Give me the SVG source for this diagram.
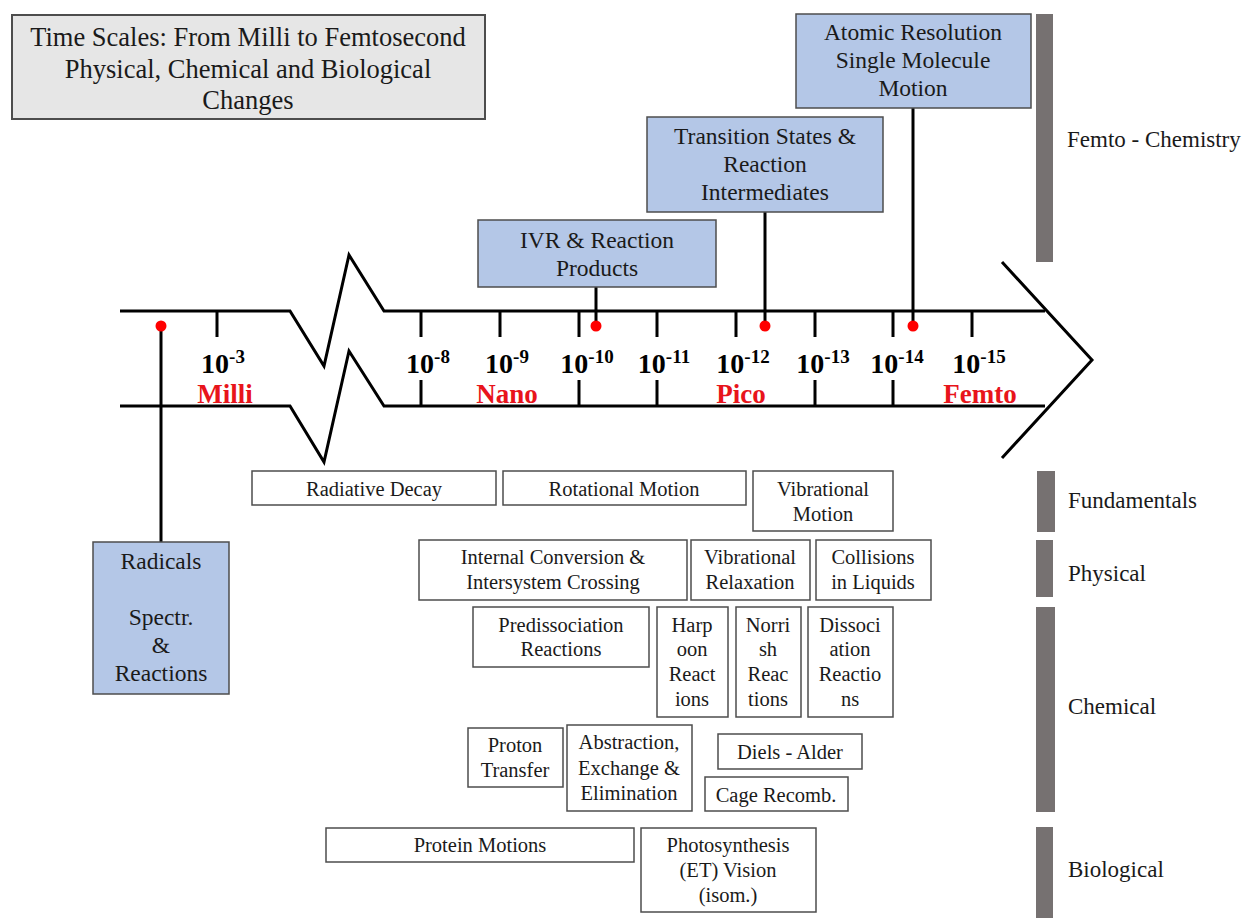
<svg xmlns="http://www.w3.org/2000/svg" width="1248" height="918" viewBox="0 0 1248 918">
<style>
text{font-family:"Liberation Serif","Times New Roman",serif;fill:#1a1a1a}
.t{font-size:20.5px;text-anchor:middle}
.tb{font-size:23.5px;text-anchor:middle}
.ttl{font-size:26.5px;text-anchor:middle}
.cat{font-size:23px}
.ax{font-size:28px;font-weight:bold;text-anchor:middle;fill:#000}
.sup{font-size:19px}
.unit{font-size:27px;font-weight:bold;text-anchor:middle;fill:#e8141b}
.box{fill:#fff;stroke:#4d4d4d;stroke-width:1.5}
.blue{fill:#b4c7e7;stroke:#4d4d4d;stroke-width:1.5}
.bar{fill:#767171}
.ln{fill:none;stroke:#000;stroke-width:3;stroke-linejoin:miter}
.dot{fill:#ff0000}
</style>

<g id="title">
<rect x="12" y="15" width="473" height="104" fill="#e6e6e6" stroke="#4d4d4d" stroke-width="2"/>
<text class="ttl" x="248" y="46">Time Scales: From Milli to Femtosecond</text>
<text class="ttl" x="248" y="78">Physical, Chemical and Biological</text>
<text class="ttl" x="248" y="109">Changes</text>
</g>

<g id="timeline">
<path class="ln" d="M120,311 H290 L324,366 L349,255 L384,311 H1045"/>
<path class="ln" d="M120,406 H290 L324,462 L349,351 L384,406 H1045"/>
<path class="ln" d="M1002,262 L1092,360 L1002,458"/>
<path class="ln" d="M217,311 V337 M421,311 V337 M500,311 V337 M579,311 V337 M657,311 V337 M736,311 V337 M815,311 V337 M893,311 V337 M972,311 V337"/>
<path class="ln" d="M421,380 V406 M579,380 V406 M657,380 V406 M815,380 V406 M893,380 V406"/>
<text class="ax" x="223" y="373">10<tspan class="sup" dy="-10">-3</tspan></text>
<text class="ax" x="428" y="373">10<tspan class="sup" dy="-10">-8</tspan></text>
<text class="ax" x="507" y="373">10<tspan class="sup" dy="-10">-9</tspan></text>
<text class="ax" x="587" y="373">10<tspan class="sup" dy="-10">-10</tspan></text>
<text class="ax" x="664" y="373">10<tspan class="sup" dy="-10">-11</tspan></text>
<text class="ax" x="743" y="373">10<tspan class="sup" dy="-10">-12</tspan></text>
<text class="ax" x="823" y="373">10<tspan class="sup" dy="-10">-13</tspan></text>
<text class="ax" x="897" y="373">10<tspan class="sup" dy="-10">-14</tspan></text>
<text class="ax" x="979" y="373">10<tspan class="sup" dy="-10">-15</tspan></text>
<text class="unit" x="225" y="403">Milli</text>
<text class="unit" x="507" y="403">Nano</text>
<text class="unit" x="741" y="403">Pico</text>
<text class="unit" x="980" y="403">Femto</text>
</g>

<g id="connectors">
<path class="ln" d="M161,326 V542"/>
<path class="ln" d="M596,287 V326"/>
<path class="ln" d="M765,212 V326"/>
<path class="ln" d="M913,108 V326"/>
<circle class="dot" cx="161" cy="326" r="5.5"/>
<circle class="dot" cx="596" cy="326" r="5.5"/>
<circle class="dot" cx="765" cy="326" r="5.5"/>
<circle class="dot" cx="913" cy="326" r="5.5"/>
</g>

<g id="ivr">
<rect class="blue" x="478" y="220" width="238" height="67"/>
<text class="tb" x="597" y="248">IVR &amp; Reaction</text>
<text class="tb" x="597" y="276">Products</text>
</g>
<g id="transition">
<rect class="blue" x="647" y="117" width="236" height="95"/>
<text class="tb" x="765" y="144">Transition States &amp;</text>
<text class="tb" x="765" y="172">Reaction</text>
<text class="tb" x="765" y="200">Intermediates</text>
</g>
<g id="atomic">
<rect class="blue" x="796" y="14" width="235" height="94"/>
<text class="tb" x="913" y="40">Atomic Resolution</text>
<text class="tb" x="913" y="68">Single Molecule</text>
<text class="tb" x="913" y="96">Motion</text>
</g>
<g id="radicals">
<rect class="blue" x="93" y="542" width="136" height="152"/>
<text class="tb" x="161" y="569">Radicals</text>
<text class="tb" x="161" y="625">Spectr.</text>
<text class="tb" x="161" y="653">&amp;</text>
<text class="tb" x="161" y="681">Reactions</text>
</g>

<g id="categories">
<rect class="bar" x="1036" y="14" width="17" height="248"/>
<text class="cat" x="1067" y="147">Femto - Chemistry</text>
<rect class="bar" x="1037" y="471" width="18" height="61"/>
<text class="cat" x="1068" y="508">Fundamentals</text>
<rect class="bar" x="1036" y="540" width="17" height="57"/>
<text class="cat" x="1068" y="581">Physical</text>
<rect class="bar" x="1036" y="607" width="19" height="205"/>
<text class="cat" x="1068" y="714">Chemical</text>
<rect class="bar" x="1036" y="827" width="17" height="91"/>
<text class="cat" x="1068" y="877">Biological</text>
</g>

<g id="radiative">
<rect class="box" x="252" y="471" width="244" height="34"/>
<text class="t" x="374" y="496">Radiative Decay</text>
</g>
<g id="rotational">
<rect class="box" x="503" y="471" width="243" height="34"/>
<text class="t" x="624" y="496">Rotational Motion</text>
</g>
<g id="vibrational">
<rect class="box" x="753" y="471" width="140" height="60"/>
<text class="t" x="823" y="496">Vibrational</text>
<text class="t" x="823" y="521">Motion</text>
</g>
<g id="internal">
<rect class="box" x="419" y="540" width="268" height="60"/>
<text class="t" x="553" y="564">Internal Conversion &amp;</text>
<text class="t" x="553" y="589">Intersystem Crossing</text>
</g>
<g id="vibrelax">
<rect class="box" x="691" y="540" width="119" height="60"/>
<text class="t" x="750" y="564">Vibrational</text>
<text class="t" x="750" y="589">Relaxation</text>
</g>
<g id="collisions">
<rect class="box" x="816" y="540" width="115" height="60"/>
<text class="t" x="873" y="564">Collisions</text>
<text class="t" x="873" y="589">in Liquids</text>
</g>
<g id="predissociation">
<rect class="box" x="473" y="607" width="176" height="60"/>
<text class="t" x="561" y="632">Predissociation</text>
<text class="t" x="561" y="656">Reactions</text>
</g>
<g id="harpoon">
<rect class="box" x="657" y="607" width="71" height="110"/>
<text class="t" x="692" y="632">Harp</text>
<text class="t" x="692" y="656">oon</text>
<text class="t" x="692" y="681">React</text>
<text class="t" x="692" y="706">ions</text>
</g>
<g id="norrish">
<rect class="box" x="736" y="607" width="65" height="110"/>
<text class="t" x="768" y="632">Norri</text>
<text class="t" x="768" y="656">sh</text>
<text class="t" x="768" y="681">Reac</text>
<text class="t" x="768" y="706">tions</text>
</g>
<g id="dissociation">
<rect class="box" x="808" y="607" width="85" height="110"/>
<text class="t" x="850" y="632">Dissoci</text>
<text class="t" x="850" y="656">ation</text>
<text class="t" x="850" y="681">Reactio</text>
<text class="t" x="850" y="706">ns</text>
</g>
<g id="proton">
<rect class="box" x="468" y="728" width="95" height="59"/>
<text class="t" x="515" y="752">Proton</text>
<text class="t" x="515" y="777">Transfer</text>
</g>
<g id="abstraction">
<rect class="box" x="567" y="725" width="125" height="86"/>
<text class="t" x="629" y="749">Abstraction,</text>
<text class="t" x="629" y="775">Exchange &amp;</text>
<text class="t" x="629" y="800">Elimination</text>
</g>
<g id="diels">
<rect class="box" x="718" y="734" width="144" height="35"/>
<text class="t" x="790" y="759">Diels - Alder</text>
</g>
<g id="cage">
<rect class="box" x="705" y="777" width="143" height="34"/>
<text class="t" x="776" y="802">Cage Recomb.</text>
</g>
<g id="protein">
<rect class="box" x="326" y="828" width="308" height="34"/>
<text class="t" x="480" y="852">Protein Motions</text>
</g>
<g id="photosynthesis">
<rect class="box" x="641" y="828" width="175" height="84"/>
<text class="t" x="728" y="852">Photosynthesis</text>
<text class="t" x="728" y="877">(ET) Vision</text>
<text class="t" x="728" y="902">(isom.)</text>
</g>
</svg>
